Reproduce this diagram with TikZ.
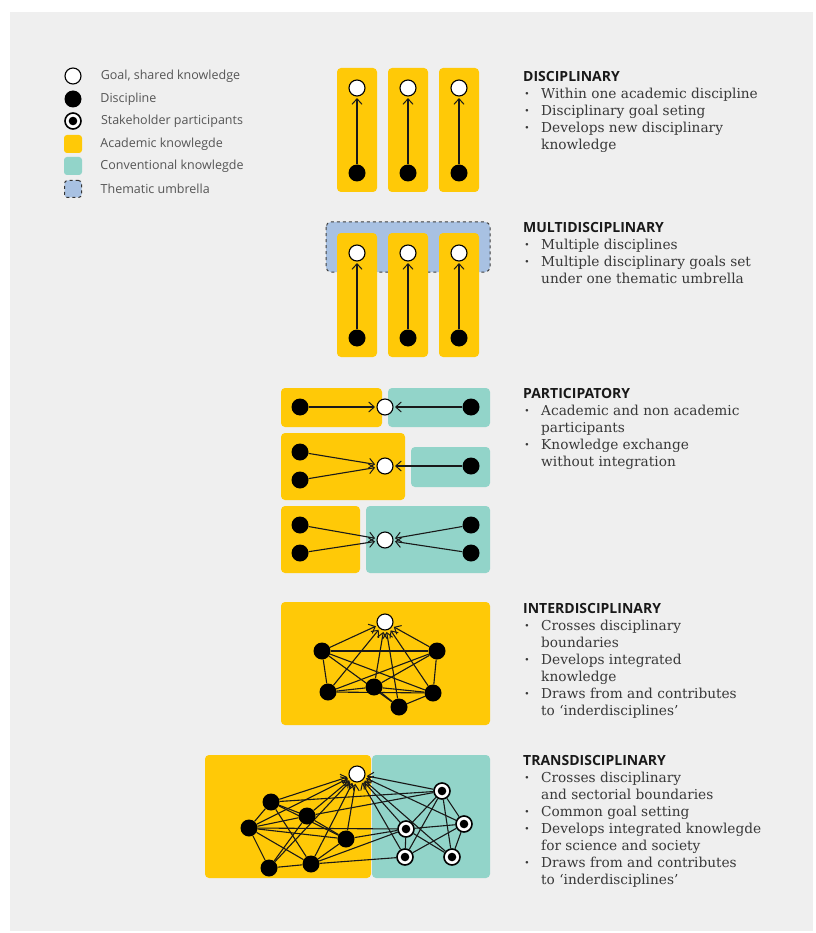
\documentclass[tikz,border=0pt]{standalone}
\usepackage{fontspec}
\setmainfont{DejaVu Serif}
\newfontfamily\headfont{Open Sans}
\newfontfamily\legfont{Open Sans}
\definecolor{AcadYellow}{HTML}{FFC907}
\definecolor{ConvTeal}{HTML}{92D4C9}
\definecolor{UmbrellaBlue}{HTML}{A8C1E2}
\definecolor{PanelGrey}{HTML}{EFEFEF}
\definecolor{TextGrey}{HTML}{383838}
\definecolor{LegendGrey}{HTML}{555555}
\usetikzlibrary{
  arrows.meta,
  positioning
}
\pgfdeclarelayer{panel}
\pgfdeclarelayer{edges}
\pgfsetlayers{panel,edges,main}
\newcommand{\itm}{\makebox[18pt][l]{\hspace{1.5pt}\textbf{\textperiodcentered}}}
\newcommand{\cnt}{\hspace*{18pt}}
\newcommand{\hd}[1]{{\headfont\bfseries\fontsize{14}{17}\selectfont\color{black!90}#1}}

\begin{document}
\begin{tikzpicture}[
  x=1pt, y=-1pt,
  goal/.style={
    circle, draw=black, line width=1.1pt, fill=white,
    minimum size=16pt, inner sep=0pt
  },
  disc/.style={
    circle, fill=black, minimum size=17pt, inner sep=0pt
  },
  stake/.style={
    circle, draw=black, line width=1.6pt, fill=white,
    minimum size=16pt, inner sep=0pt,
    path picture={\fill[black] (path picture bounding box.center) circle (4.3pt);}
  },
  arr/.style={
    -{Straight Barb[length=5.5pt,width=10pt,line width=1pt]},
    line width=1.1pt, black!90, shorten >=1.5pt
  },
  link/.style={
    line width=1.1pt, black!90
  },
  acad/.style={fill=AcadYellow, rounded corners=4pt},
  conv/.style={fill=ConvTeal, rounded corners=4pt},
  lgbox/.style={
    rectangle, rounded corners=3pt, minimum size=18pt, inner sep=0pt
  },
  legtxt/.style={
    inner sep=0pt, text=LegendGrey,
    font=\legfont\fontsize{12.5}{15}\selectfont
  },
  desc/.style={
    anchor=north west, inner sep=0pt, align=left, text=TextGrey,
    font=\fontsize{13.7}{17}\selectfont
  }
]
  \useasboundingbox (0,0) rectangle (815,933);
  \begin{pgfonlayer}{panel}
    \fill[white] (0,0) rectangle (815,933);
    \fill[PanelGrey] (10,12) rectangle (813,931);
  \end{pgfonlayer}

  % Legend
  \node[goal] (lgGoal) at (73,76) {};
  \node[disc] (lgDisc) at (73,99) {};
  \node[stake] (lgStake) at (73,121) {};
  \node[lgbox, fill=AcadYellow] (lgAcad) at (73,144) {};
  \node[lgbox, fill=ConvTeal] (lgConv) at (73,166) {};
  \node[lgbox, fill=UmbrellaBlue, draw=black!80, dashed, line width=1pt,
    minimum size=17pt] (lgUmb) at (73,189) {};
  \node[legtxt, right=19pt of lgGoal] {Goal, shared knowledge};
  \node[legtxt, right=18.5pt of lgDisc] {Discipline};
  \node[legtxt, right=19pt of lgStake] {Stakeholder participants};
  \node[legtxt, right=18pt of lgAcad] {Academic knowlegde};
  \node[legtxt, right=18pt of lgConv] {Conventional knowlegde};
  \node[legtxt, right=18.5pt of lgUmb] {Thematic umbrella};

  % Disciplinary
  \begin{pgfonlayer}{panel}
    \foreach \x in {357,408,459}
      \path[acad] (\x-20,68) rectangle (\x+20,192);
  \end{pgfonlayer}
  \foreach \i/\x in {1/357,2/408,3/459}{
    \node[goal] (dGoal\i) at (\x,88) {};
    \node[disc] (dDisc\i) at (\x,173) {};
    \draw[arr] (dDisc\i) -- (dGoal\i);
  }

  % Multidisciplinary
  \begin{pgfonlayer}{panel}
    \draw[fill=UmbrellaBlue, draw=black!75, dashed, line width=1pt,
      rounded corners=5pt] (326,222) rectangle (490,272);
    \foreach \x in {357,408,459}
      \path[acad] (\x-20,233) rectangle (\x+20,357);
  \end{pgfonlayer}
  \foreach \i/\x in {1/357,2/408,3/459}{
    \node[goal] (mGoal\i) at (\x,253) {};
    \node[disc] (mDisc\i) at (\x,338) {};
    \draw[arr] (mDisc\i) -- (mGoal\i);
  }

  % Participatory
  \begin{pgfonlayer}{panel}
    \path[acad] (281,388) rectangle (382,427);
    \path[conv] (388,388) rectangle (490,427);
    \path[acad] (281,433) rectangle (405,500);
    \path[conv] (411,447) rectangle (490,487);
    \path[acad] (281,506) rectangle (360,573);
    \path[conv] (366,506) rectangle (490,573);
  \end{pgfonlayer}
  \node[goal] (pGoalA) at (385,407) {};
  \node[disc] (pDiscA1) at (300,407) {};
  \node[disc] (pDiscA2) at (471,407) {};
  \node[goal] (pGoalB) at (385,466) {};
  \node[disc] (pDiscB1) at (300,452) {};
  \node[disc] (pDiscB2) at (300,480) {};
  \node[disc] (pDiscB3) at (471,466) {};
  \node[goal] (pGoalC) at (385,540) {};
  \node[disc] (pDiscC1) at (300,525) {};
  \node[disc] (pDiscC2) at (300,553) {};
  \node[disc] (pDiscC3) at (471,525) {};
  \node[disc] (pDiscC4) at (471,553) {};
  \draw[arr] (pDiscA1) -- (pGoalA);
  \draw[arr] (pDiscA2) -- (pGoalA);
  \foreach \n in {B1,B2,B3}
    \draw[arr] (pDisc\n) -- (pGoalB);
  \foreach \n in {C1,C2,C3,C4}
    \draw[arr] (pDisc\n) -- (pGoalC);

  % Interdisciplinary
  \begin{pgfonlayer}{panel}
    \path[acad] (281,602) rectangle (490,725);
  \end{pgfonlayer}
  \node[goal] (iGoal) at (385,622) {};
  \node[disc] (iDisc1) at (322,651) {};
  \node[disc] (iDisc2) at (437,651) {};
  \node[disc] (iDisc3) at (328,692) {};
  \node[disc] (iDisc4) at (374,687) {};
  \node[disc] (iDisc5) at (433,693) {};
  \node[disc] (iDisc6) at (399,707) {};
  \begin{pgfonlayer}{edges}
    \foreach \a/\b in {1/2,1/3,1/5,1/6,2/3,2/4,2/5,3/4,3/5,4/6,4/5,6/5}
      \draw[link] (iDisc\a) -- (iDisc\b);
    \foreach \n in {1,...,6}
      \draw[arr] (iDisc\n) -- (iGoal);
  \end{pgfonlayer}

  % Transdisciplinary
  \begin{pgfonlayer}{panel}
    \path[acad] (205,755) rectangle (371,878);
    \path[conv] (372,755) rectangle (490,878);
  \end{pgfonlayer}
  \node[goal] (tGoal) at (357,774) {};
  \node[disc] (tDisc1) at (271,802) {};
  \node[disc] (tDisc2) at (307,816) {};
  \node[disc] (tDisc3) at (249,828) {};
  \node[disc] (tDisc4) at (346,839) {};
  \node[disc] (tDisc5) at (269,868) {};
  \node[disc] (tDisc6) at (311,864) {};
  \node[stake] (tStake1) at (442,791) {};
  \node[stake] (tStake2) at (406,829) {};
  \node[stake] (tStake3) at (464,824) {};
  \node[stake] (tStake4) at (405,857) {};
  \node[stake] (tStake5) at (452,857) {};
  \begin{pgfonlayer}{edges}
    \foreach \a/\b in {1/2,1/3,1/4,1/6,2/3,2/4,2/5,3/4,3/5,3/6,5/6,4/6}
      \draw[link] (tDisc\a) -- (tDisc\b);
    \foreach \a/\b in {1/2,1/3,1/4,1/5,2/3,2/4,2/5,3/4,3/5}
      \draw[link] (tStake\a) -- (tStake\b);
    \foreach \a/\b in {1/1,2/1,3/2,4/2,6/2,6/4}
      \draw[link] (tDisc\a) -- (tStake\b);
    \foreach \n in {1,...,6}
      \draw[arr] (tDisc\n) -- (tGoal);
    \foreach \n in {1,...,5}
      \draw[arr] (tStake\n) -- (tGoal);
  \end{pgfonlayer}

  % Descriptions
  \node[desc] (discTxt) at (523,71) {\hd{DISCIPLINARY}\\
    \itm Within one academic discipline\\
    \itm Disciplinary goal seting\\
    \itm Develops new disciplinary\\
    \cnt knowledge};
  \node[desc] (multiTxt) at (523,222) {\hd{MULTIDISCIPLINARY}\\
    \itm Multiple disciplines\\
    \itm Multiple disciplinary goals set\\
    \cnt under one thematic umbrella};
  \node[desc] (partTxt) at (523,388) {\hd{PARTICIPATORY}\\
    \itm Academic and non academic\\
    \cnt participants\\
    \itm Knowledge exchange\\
    \cnt without integration};
  \node[desc] (interTxt) at (523,603) {\hd{INTERDISCIPLINARY}\\
    \itm Crosses disciplinary\\
    \cnt boundaries\\
    \itm Develops integrated\\
    \cnt knowledge\\
    \itm Draws from and contributes\\
    \cnt to ‘inderdisciplines’};
  \node[desc] (transTxt) at (523,755) {\hd{TRANSDISCIPLINARY}\\
    \itm Crosses disciplinary\\
    \cnt and sectorial boundaries\\
    \itm Common goal setting\\
    \itm Develops integrated knowlegde\\
    \cnt for science and society\\
    \itm Draws from and contributes\\
    \cnt to ‘inderdisciplines’};
\end{tikzpicture}
\end{document}
